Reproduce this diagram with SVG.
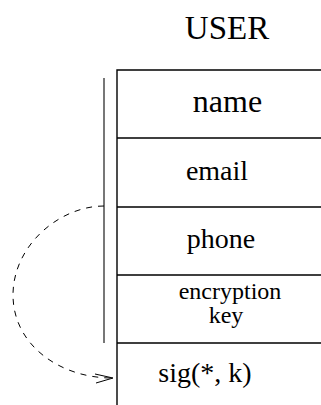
<svg xmlns="http://www.w3.org/2000/svg" width="321" height="405" viewBox="0 0 321 405">
  <style>
    .cell { fill: none; stroke: #000; stroke-width: 1.4; }
    .label { font-family: "Liberation Serif", "Times New Roman", serif; fill: #000; text-anchor: middle; }
    .bracket { stroke: #555; stroke-width: 1.6; fill: none; }
    .link { stroke: #000; stroke-width: 1; fill: none; stroke-dasharray: 6 6; }
    .head { stroke: #000; stroke-width: 1; fill: none; }
  </style>
  <rect width="321" height="405" fill="#fff"/>

  <text class="label" x="227" y="39" font-size="33">USER</text>

  <!-- record table -->
  <g id="table">
    <path class="cell" d="M117,405 V70 H321 M117,138 H321 M117,207 H321 M117,275 H321 M117,343 H321"/>
  </g>

  <g id="name">
    <text class="label" x="227.5" y="112" font-size="32">name</text>
  </g>
  <g id="email">
    <text class="label" x="217" y="180" font-size="28">email</text>
  </g>
  <g id="phone">
    <text class="label" x="221" y="248" font-size="28">phone</text>
  </g>
  <g id="encryption-key">
    <text class="label" x="230" y="299" font-size="24">encryption</text>
    <text class="label" x="226" y="323" font-size="24">key</text>
  </g>
  <g id="signature">
    <text class="label" x="205" y="382" font-size="28">sig(*, k)</text>
  </g>

  <!-- signed fields span and signature link -->
  <g id="connectors">
    <line class="bracket" x1="104" y1="78" x2="104" y2="343"/>
    <path class="link" d="M104,206 C60,206 13,245 13,295 C13,345 60,378 112,378"/>
    <path class="head" d="M95,374 L113,378 L96,383"/>
  </g>
</svg>
